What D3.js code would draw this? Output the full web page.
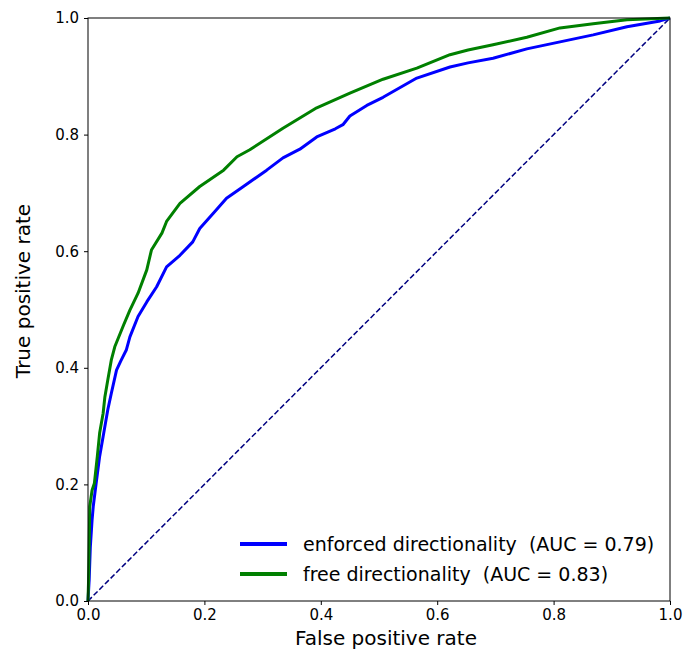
<!DOCTYPE html>
<html>
<head>
<meta charset="utf-8">
<script src="https://cdn.jsdelivr.net/npm/d3@7"></script>
<style>
    body { margin: 0; background: #fff; }
    svg { display: block; font-family: "DejaVu Sans", sans-serif; }
</style>
</head>
<body>
<div id="chart"></div>
<script>
// ROC points
const fprEnforced = [0, 0.002, 0.004, 0.007, 0.009, 0.014, 0.020, 0.026, 0.034, 0.040, 0.049, 0.056, 0.066, 0.072, 0.086, 0.101, 0.118, 0.135, 0.158, 0.180, 0.192, 0.218, 0.238, 0.267, 0.307, 0.335, 0.364, 0.393, 0.425, 0.438, 0.450, 0.479, 0.507, 0.565, 0.622, 0.653, 0.696, 0.754, 0.811, 0.868, 0.926, 0.983, 1];
const tprEnforced = [0, 0.036, 0.093, 0.139, 0.162, 0.202, 0.248, 0.282, 0.328, 0.356, 0.396, 0.411, 0.431, 0.453, 0.488, 0.513, 0.539, 0.573, 0.593, 0.616, 0.639, 0.668, 0.691, 0.711, 0.739, 0.760, 0.775, 0.796, 0.810, 0.817, 0.832, 0.850, 0.864, 0.897, 0.916, 0.923, 0.931, 0.947, 0.959, 0.971, 0.985, 0.995, 1];

const fprFree = [0, 0.001, 0.002, 0.003, 0.007, 0.011, 0.016, 0.020, 0.026, 0.029, 0.034, 0.040, 0.046, 0.061, 0.072, 0.086, 0.101, 0.109, 0.127, 0.135, 0.158, 0.192, 0.233, 0.256, 0.278, 0.335, 0.393, 0.450, 0.507, 0.565, 0.622, 0.653, 0.696, 0.754, 0.811, 0.868, 0.926, 1];
const tprFree = [0, 0.036, 0.093, 0.162, 0.190, 0.202, 0.248, 0.288, 0.322, 0.350, 0.379, 0.413, 0.436, 0.473, 0.499, 0.528, 0.568, 0.602, 0.631, 0.651, 0.682, 0.711, 0.739, 0.762, 0.774, 0.811, 0.846, 0.871, 0.895, 0.914, 0.937, 0.945, 0.954, 0.967, 0.983, 0.990, 0.997, 1];

const ticks = [0, 0.2, 0.4, 0.6, 0.8, 1.0];
const seriesNames = ["enforced directionality  (AUC = 0.79)", "free directionality  (AUC = 0.83)"];
const seriesColors = ["#0000ff", "#008000"];

const width = 686, height = 650;
const margin = { top: 18, right: 16, bottom: 49, left: 88 };

const svg = d3.select("#chart").append("svg")
    .attr("width", width)
    .attr("height", height);

const x = d3.scaleLinear()
    .domain([0, 1])
    .range([margin.left, width - margin.right]);

const y = d3.scaleLinear()
    .domain([0, 1])
    .range([height - margin.bottom, margin.top]);

// diagonal chance line
svg.append("line")
    .attr("x1", x(0)).attr("y1", y(0))
    .attr("x2", x(1)).attr("y2", y(1))
    .attr("stroke", "#000080")
    .attr("stroke-width", 1.5)
    .attr("stroke-dasharray", "5.5,2.5");

const line = d3.line()
    .x(d => x(d[0]))
    .y(d => y(d[1]));

const series = [
    d3.zip(fprEnforced, tprEnforced),
    d3.zip(fprFree, tprFree)
];

series.forEach((pts, i) => {
    svg.append("path")
        .datum(pts)
        .attr("fill", "none")
        .attr("stroke", seriesColors[i])
        .attr("stroke-width", 3)
        .attr("stroke-linejoin", "round")
        .attr("d", line);
});

// axes
const fmt = d3.format(".1f");
svg.append("g")
    .attr("transform", `translate(0,${y(0)})`)
    .call(d3.axisBottom(x).tickValues(ticks).tickFormat(fmt).tickSize(4).tickPadding(4))
    .call(g => g.select(".domain").remove())
    .call(g => g.selectAll("text").attr("font-size", 15).attr("fill", "#000").attr("font-family", "DejaVu Sans"));

svg.append("g")
    .attr("transform", `translate(${x(0)},0)`)
    .call(d3.axisLeft(y).tickValues(ticks).tickFormat(fmt).tickSize(4).tickPadding(5))
    .call(g => g.select(".domain").remove())
    .call(g => g.selectAll("text").attr("font-size", 15).attr("fill", "#000").attr("font-family", "DejaVu Sans"));

// frame
svg.append("rect")
    .attr("x", x(0)).attr("y", y(1))
    .attr("width", x(1) - x(0))
    .attr("height", y(0) - y(1))
    .attr("fill", "none")
    .attr("stroke", "#000")
    .attr("stroke-width", 1);

// axis labels
svg.append("text")
    .attr("x", 386).attr("y", 645)
    .attr("text-anchor", "middle")
    .attr("font-size", 20)
    .text("False positive rate");

svg.append("text")
    .attr("transform", "translate(30,291) rotate(-90)")
    .attr("text-anchor", "middle")
    .attr("font-size", 20)
    .text("True positive rate");

// legend
const legend = svg.append("g");
seriesNames.forEach((name, i) => {
    const ly = 544 + i * 30;
    legend.append("line")
        .attr("x1", 240).attr("x2", 287)
        .attr("y1", ly).attr("y2", ly)
        .attr("stroke", seriesColors[i])
        .attr("stroke-width", 4);
    legend.append("text")
        .attr("x", 303).attr("y", ly + 7)
        .attr("font-size", 19)
        .attr("xml:space", "preserve")
        .style("white-space", "pre")
        .text(name);
});
</script>
</body>
</html>
